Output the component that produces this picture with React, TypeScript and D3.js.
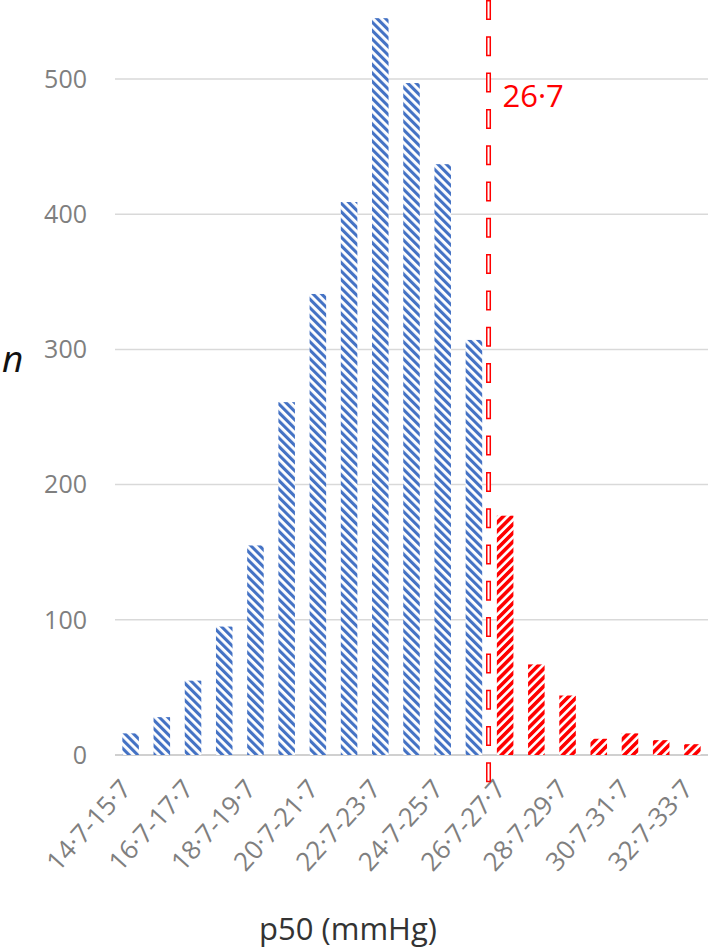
import React, { useEffect, useRef } from "react";
import * as d3 from "d3";

// p50 bins (mmHg) and counts
const lowerBounds = [14.7, 15.7, 16.7, 17.7, 18.7, 19.7, 20.7, 21.7, 22.7, 23.7, 24.7, 25.7, 26.7, 27.7, 28.7, 29.7, 30.7, 31.7, 32.7];
const counts = [16, 28, 55, 95, 155, 261, 341, 409, 545, 497, 437, 307, 177, 67, 44, 12, 16, 11, 8];
const yTicks = [0, 100, 200, 300, 400, 500];
const threshold = 26.7;

const fmt = (v: number) => v.toFixed(1).replace(".", "·");
const categories = lowerBounds.map((b) => `${fmt(b)}-${fmt(b + 1)}`);

const App = () => {
  const ref = useRef<SVGSVGElement | null>(null);
  const width = 709;
  const height = 952;
  const margin = { top: 79, right: 1, bottom: 197, left: 115 };

  useEffect(() => {
    const svg = d3.select(ref.current);
    svg.selectAll("*").remove();

    const defs = svg.append("defs");
    const hatch = (id: string, color: string, angle: number, size: number, stripe: number) => {
      const p = defs
        .append("pattern")
        .attr("id", id)
        .attr("patternUnits", "userSpaceOnUse")
        .attr("width", size)
        .attr("height", size)
        .attr("patternTransform", `rotate(${angle})`);
      p.append("rect").attr("width", size).attr("height", size).attr("fill", "white");
      p.append("rect").attr("width", stripe).attr("height", size).attr("fill", color);
    };
    hatch("hatch-blue", "#4472c4", -45, 6, 3.1);
    hatch("hatch-red", "#ff0000", 45, 6.2, 3.6);

    const x = d3
      .scaleBand()
      .domain(categories)
      .range([margin.left, width - margin.right])
      .padding(0);

    const y = d3
      .scaleLinear()
      .domain([0, 500])
      .range([height - margin.bottom, margin.top]);

    // gridlines
    svg
      .append("g")
      .selectAll("line")
      .data(yTicks)
      .join("line")
      .attr("x1", margin.left)
      .attr("x2", width - margin.right)
      .attr("y1", (d) => y(d))
      .attr("y2", (d) => y(d))
      .attr("stroke", (d) => (d === 0 ? "#d0d0d0" : "#d9d9d9"))
      .attr("stroke-width", (d) => (d === 0 ? 2 : 1.5));

    // y tick labels
    svg
      .append("g")
      .selectAll("text")
      .data(yTicks)
      .join("text")
      .attr("x", 87)
      .attr("y", (d) => y(d))
      .attr("dy", "0.35em")
      .attr("text-anchor", "end")
      .attr("fill", "#7f7f7f")
      .style("font-family", "Open Sans, sans-serif")
      .style("font-size", "25px")
      .text((d) => d);

    svg
      .append("text")
      .attr("x", 2)
      .attr("y", 372)
      .attr("fill", "#111")
      .style("font-family", "Open Sans, sans-serif")
      .style("font-style", "italic")
      .style("font-size", "37px")
      .text("n");

    // bars
    const bw = x.bandwidth() * 0.53;
    svg
      .append("g")
      .selectAll("rect")
      .data(counts)
      .join("rect")
      .attr("x", (d, i) => (x(categories[i]) as number) + (x.bandwidth() - bw) / 2)
      .attr("width", bw)
      .attr("y", (d) => y(d))
      .attr("height", (d) => y(0) - y(d))
      .attr("fill", (d, i) => (lowerBounds[i] >= threshold ? "url(#hatch-red)" : "url(#hatch-blue)"));

    // x tick labels, every other bin
    svg
      .append("g")
      .selectAll("text")
      .data(categories.filter((c, i) => i % 2 === 0))
      .join("text")
      .attr("transform", (d) => `translate(${(x(d) as number) + x.bandwidth() / 2 + 2},${y(0) + 35}) rotate(-48)`)
      .attr("text-anchor", "end")
      .attr("fill", "#7f7f7f")
      .style("font-family", "Open Sans, sans-serif")
      .style("font-size", "26px")
      .text((d) => d);

    svg
      .append("text")
      .attr("x", 348)
      .attr("y", 940)
      .attr("text-anchor", "middle")
      .attr("fill", "#333")
      .style("font-family", "Open Sans, sans-serif")
      .style("font-size", "31px")
      .text("p50 (mmHg)");

    // threshold line
    const tx = x(categories[lowerBounds.indexOf(threshold)]) as number;
    svg
      .append("line")
      .attr("x1", tx - 1)
      .attr("x2", tx - 1)
      .attr("y1", 0)
      .attr("y2", 783)
      .attr("stroke", "#ff0000")
      .attr("stroke-width", 5)
      .attr("stroke-dasharray", "20 16.3");
    svg
      .append("line")
      .attr("x1", tx - 1)
      .attr("x2", tx - 1)
      .attr("y1", 1.5)
      .attr("y2", 783)
      .attr("stroke", "white")
      .attr("stroke-width", 2)
      .attr("stroke-dasharray", "17 19.3");

    svg
      .append("text")
      .attr("x", tx + 13)
      .attr("y", 107)
      .attr("fill", "#ff0000")
      .style("font-family", "Open Sans, sans-serif")
      .style("font-size", "31px")
      .text(fmt(threshold));
  }, []);

  return (
    <div style={{ position: "absolute", left: 0, top: 0 }}>
      <svg ref={ref} width={width} height={height} style={{ display: "block", background: "white" }} />
    </div>
  );
};

export default App;
